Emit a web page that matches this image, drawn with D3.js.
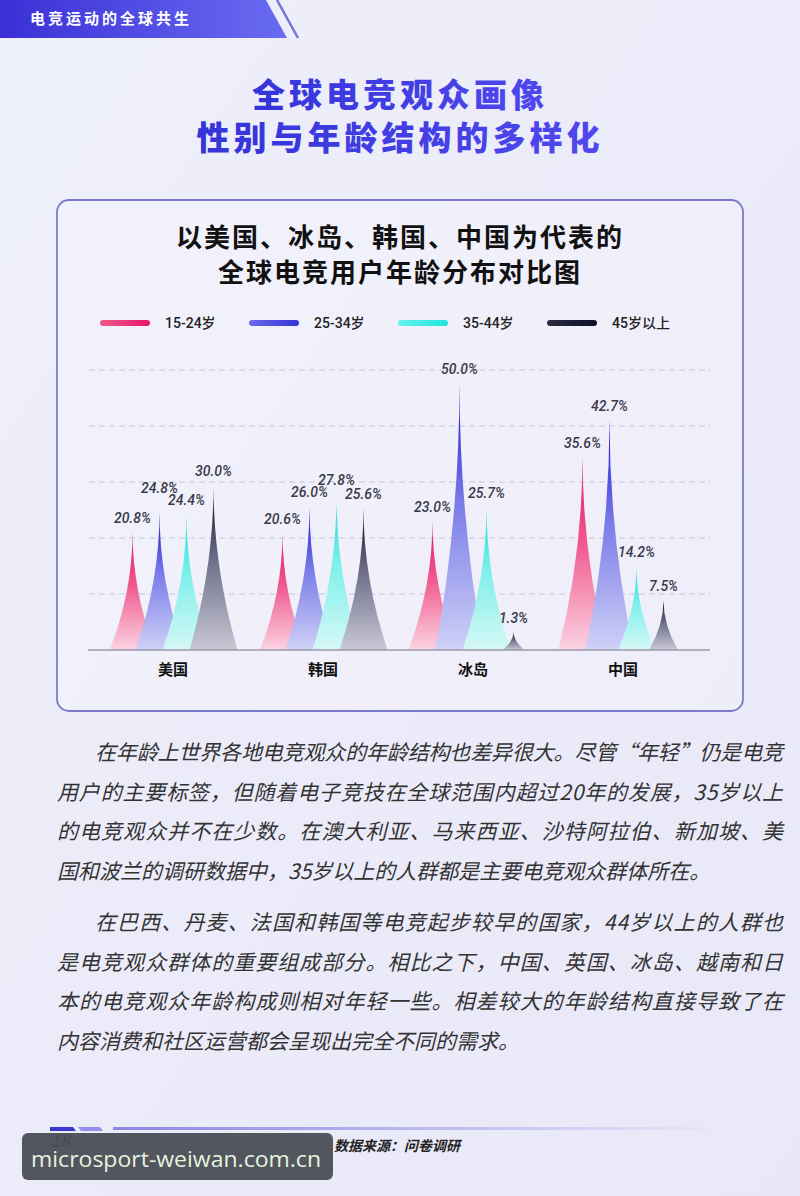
<!DOCTYPE html>
<html lang="zh">
<head>
<meta charset="utf-8">
<title>全球电竞用户年龄分布对比图</title>
<script src="https://cdn.jsdelivr.net/npm/d3@7"></script>
<style>
  body { margin: 0; background: #eceefa; }
  svg { display: block; font-family: "Noto Sans CJK SC", "Noto Sans", sans-serif; }
  .grid line { stroke: #c6c6d6; stroke-dasharray: 6 4; }
  .val { font-family: "Roboto", "Noto Sans CJK SC", sans-serif; font-style: italic; font-weight: 500; font-size: 14px; fill: #3a3a4a; }
  .cat { font-size: 15px; font-weight: 700; fill: #111; }
  .leg { font-family: "Roboto", "Noto Sans CJK SC", sans-serif; font-size: 14px; font-weight: 500; fill: #222; }
  .para { font-size: 21px; font-style: italic; fill: #333; }
</style>
</head>
<body>
<div id="page"></div>
<script>
// ---- data ----
var countries = ["美国", "韩国", "冰岛", "中国"];
var ageGroups = ["15-24岁", "25-34岁", "35-44岁", "45岁以上"];
var age1524 = [20.8, 20.6, 23.0, 35.6];
var age2534 = [24.8, 26.0, 50.0, 42.7];
var age3544 = [24.4, 27.8, 25.7, 14.2];
var age45up = [30.0, 25.6, 1.3, 7.5];

var paragraph1 = [
  "在年龄上世界各地电竞观众的年龄结构也差异很大。尽管“年轻”仍是电竞",
  "用户的主要标签，但随着电子竞技在全球范围内超过20年的发展，35岁以上",
  "的电竞观众并不在少数。在澳大利亚、马来西亚、沙特阿拉伯、新加坡、美",
  "国和波兰的调研数据中，35岁以上的人群都是主要电竞观众群体所在。"
];
var paragraph2 = [
  "在巴西、丹麦、法国和韩国等电竞起步较早的国家，44岁以上的人群也",
  "是电竞观众群体的重要组成部分。相比之下，中国、英国、冰岛、越南和日",
  "本的电竞观众年龄构成则相对年轻一些。相差较大的年龄结构直接导致了在",
  "内容消费和社区运营都会呈现出完全不同的需求。"
];

var seriesValues = [age1524, age2534, age3544, age45up];

// colours: [top, middle, bottom] for the spikes, [left, right] for legend
var spikeColors = [
  ["#e5125c", "#f05a8e", "#fbd3e2"],
  ["#1c12d6", "#7b7de8", "#cfd1f7"],
  ["#15e0da", "#7ff0ea", "#d6f8f6"],
  ["#121230", "#6e6e88", "#c8c8d6"]
];
var legendColors = [
  ["#f25a88", "#e8176a"],
  ["#6c6ae8", "#3434d6"],
  ["#66f2ec", "#1ee6de"],
  ["#2c2c42", "#0e0e26"]
];

var W = 800, H = 1196;

var svg = d3.select("#page").append("svg")
  .attr("width", W)
  .attr("height", H);

var defs = svg.append("defs");

// background
var bg = defs.append("linearGradient").attr("id", "bg")
  .attr("x1", 0).attr("y1", 0).attr("x2", 1).attr("y2", 1);
bg.append("stop").attr("offset", "0%").attr("stop-color", "#eef0fb");
bg.append("stop").attr("offset", "50%").attr("stop-color", "#ecebf9");
bg.append("stop").attr("offset", "100%").attr("stop-color", "#e8e8f8");
svg.append("rect").attr("width", W).attr("height", H).attr("fill", "url(#bg)");

// ---- top banner ----
var ban = defs.append("linearGradient").attr("id", "banner");
ban.append("stop").attr("offset", "0%").attr("stop-color", "#3a2fd6");
ban.append("stop").attr("offset", "100%").attr("stop-color", "#6a6cf2");
svg.append("path")
  .attr("d", "M0,0 L266,0 L287,38 L0,38 Z")
  .attr("fill", "url(#banner)");
svg.append("line")
  .attr("x1", 277).attr("y1", 0).attr("x2", 298).attr("y2", 38)
  .attr("stroke", "#7773de").attr("stroke-width", 2.5);
svg.append("text")
  .attr("x", 30).attr("y", 24)
  .attr("fill", "#fff")
  .style("font-size", "15px").style("font-weight", 700).style("letter-spacing", "3px")
  .text("电竞运动的全球共生");

// ---- main title ----
var tg = defs.append("linearGradient").attr("id", "title");
tg.append("stop").attr("offset", "0%").attr("stop-color", "#3434d8");
tg.append("stop").attr("offset", "100%").attr("stop-color", "#5048ee");
svg.selectAll(".mtitle")
  .data(["全球电竞观众画像", "性别与年龄结构的多样化"])
  .enter().append("text")
    .attr("class", "mtitle")
    .attr("x", 400)
    .attr("y", function(d, i) { return 107 + i * 43; })
    .attr("text-anchor", "middle")
    .attr("fill", "url(#title)")
    .style("font-size", "33px").style("font-weight", 900).style("letter-spacing", "4px")
    .text(function(d) { return d; });

// ---- chart panel ----
svg.append("rect")
  .attr("x", 57).attr("y", 200).attr("width", 686).attr("height", 511)
  .attr("rx", 12)
  .attr("fill", "rgba(255,255,255,0.22)")
  .attr("stroke", "#7c79cc").attr("stroke-width", 1.8);

svg.selectAll(".ctitle")
  .data(["以美国、冰岛、韩国、中国为代表的", "全球电竞用户年龄分布对比图"])
  .enter().append("text")
    .attr("class", "ctitle")
    .attr("x", 400)
    .attr("y", function(d, i) { return 247 + i * 35; })
    .attr("text-anchor", "middle")
    .attr("fill", "#111")
    .style("font-size", "26px").style("font-weight", 700).style("letter-spacing", "2px")
    .text(function(d) { return d; });

// legend
legendColors.forEach(function(c, i) {
  var g = defs.append("linearGradient").attr("id", "leg" + i);
  g.append("stop").attr("offset", "0%").attr("stop-color", c[0]);
  g.append("stop").attr("offset", "100%").attr("stop-color", c[1]);
});
var legX = d3.scaleBand().domain(ageGroups).range([100, 696]);
var leg = svg.selectAll(".legItem")
  .data(ageGroups)
  .enter().append("g")
    .attr("class", "legItem")
    .attr("transform", function(d) { return "translate(" + legX(d) + ",323)"; });
leg.append("rect")
  .attr("x", 0).attr("y", -3).attr("width", 50).attr("height", 6).attr("rx", 3)
  .attr("fill", function(d, i) { return "url(#leg" + i + ")"; });
leg.append("text")
  .attr("class", "leg")
  .attr("x", 65).attr("y", 5)
  .text(function(d) { return d; });

// scales
var x0 = d3.scaleBand().domain(countries).range([98, 698]);
var x1 = d3.scaleBand().domain(ageGroups).range([-54, 54]);
var y = d3.scaleLinear().domain([-2.2, 50]).range([650, 383]);
var halfW = d3.scaleLinear().domain([0, 23]).range([10, 24]).clamp(true);
var grid = d3.scaleLinear().domain([0, 5]).range([650, 370]);

// gridlines
svg.append("g").attr("class", "grid")
  .selectAll("line")
  .data([1, 2, 3, 4, 5])
  .enter().append("line")
    .attr("x1", 89).attr("x2", 710)
    .attr("y1", function(d) { return grid(d); })
    .attr("y2", function(d) { return grid(d); });

// spike gradients
spikeColors.forEach(function(c, i) {
  var g = defs.append("linearGradient").attr("id", "spike" + i)
    .attr("x1", 0).attr("y1", 0).attr("x2", 0).attr("y2", 1);
  g.append("stop").attr("offset", "0%").attr("stop-color", c[0]);
  g.append("stop").attr("offset", "45%").attr("stop-color", c[1]);
  g.append("stop").attr("offset", "100%").attr("stop-color", c[2]);
});

// concave spike: half width shrinks with the square of the height fraction
function spike(cx, v) {
  var base = y(-2.2), top = y(v), w = halfW(v), mid = (base + top) / 2;
  return "M" + (cx - w) + "," + base +
    " Q" + cx + "," + mid + " " + cx + "," + top +
    " Q" + cx + "," + mid + " " + (cx + w) + "," + base + " Z";
}

var groups = svg.selectAll(".country")
  .data(countries)
  .enter().append("g")
    .attr("class", "country")
    .attr("transform", function(d) { return "translate(" + (x0(d) + x0.bandwidth() / 2) + ",0)"; });

ageGroups.forEach(function(a, si) {
  groups.append("path")
    .attr("d", function(d, ci) { return spike(x1(a) + x1.bandwidth() / 2, seriesValues[si][ci]); })
    .attr("fill", "url(#spike" + si + ")");
});

// value labels; lift a label when it would collide with its neighbour
countries.forEach(function(c, ci) {
  var ly = seriesValues.map(function(s) { return y(s[ci]) - 9; });
  for (var k = 0; k < ly.length - 1; k++) {
    if (Math.abs(ly[k] - ly[k + 1]) < 12) {
      if (seriesValues[k][ci] >= seriesValues[k + 1][ci]) ly[k] = ly[k + 1] - 12;
      else ly[k + 1] = ly[k] - 12;
    }
  }
  var g = d3.select(groups.nodes()[ci]);
  ageGroups.forEach(function(a, si) {
    g.append("text")
      .attr("class", "val")
      .attr("x", x1(a) + x1.bandwidth() / 2)
      .attr("y", ly[si])
      .attr("text-anchor", "middle")
      .text(seriesValues[si][ci].toFixed(1) + "%");
  });
});

// baseline + category labels
svg.append("line")
  .attr("x1", 88).attr("x2", 710).attr("y1", 650).attr("y2", 650)
  .attr("stroke", "#9a9aae").attr("stroke-width", 1.5);
groups.append("text")
  .attr("class", "cat")
  .attr("y", 675)
  .attr("text-anchor", "middle")
  .text(function(d) { return d; });

// ---- body text ----
function drawPara(lines, y0) {
  svg.selectAll(null)
    .data(lines)
    .enter().append("text")
      .attr("class", "para")
      .attr("x", function(d, i) { return i === 0 ? 95 : 57; })
      .attr("y", function(d, i) { return y0 + i * 39.5; })
      .each(function(d, i) {
        if (i < lines.length - 1) {
          d3.select(this).attr("textLength", i === 0 ? 688 : 726).attr("lengthAdjust", "spacing");
        }
      })
      .text(function(d) { return d; });
}
drawPara(paragraph1, 760);
drawPara(paragraph2, 930);

// ---- footer ----
var fl = defs.append("linearGradient").attr("id", "footLine");
fl.append("stop").attr("offset", "0%").attr("stop-color", "#8a86e6");
fl.append("stop").attr("offset", "100%").attr("stop-color", "#8a86e6").attr("stop-opacity", 0);
svg.append("path").attr("d", "M50,1127 L73,1127 L76,1131 L50,1131 Z").attr("fill", "#3a36d0");
svg.append("path").attr("d", "M78,1127 L100,1127 L103,1131 L81,1131 Z").attr("fill", "#9490ea");
svg.append("rect").attr("x", 113).attr("y", 1127).attr("width", 610).attr("height", 3).attr("fill", "url(#footLine)");
svg.append("text")
  .attr("x", 50).attr("y", 1147)
  .attr("fill", "#2c2a80")
  .style("font-size", "17px").style("font-weight", 700).style("font-style", "italic")
  .text("18");
svg.append("text")
  .attr("x", 334).attr("y", 1151)
  .attr("fill", "#222")
  .style("font-size", "14px").style("font-weight", 700).style("font-style", "italic")
  .text("数据来源：问卷调研");

// watermark (covers the page number, as in the source)
svg.append("rect")
  .attr("x", 22).attr("y", 1133).attr("width", 311).attr("height", 47).attr("rx", 6)
  .attr("fill", "#4c4f57").attr("fill-opacity", 0.96);
svg.append("text")
  .attr("x", 31).attr("y", 1167)
  .attr("fill", "#e4f4df")
  .attr("textLength", 290).attr("lengthAdjust", "spacingAndGlyphs")
  .style("font-family", "'Open Sans', 'Noto Sans', sans-serif")
  .style("font-size", "22px")
  .text("microsport-weiwan.com.cn");
</script>
</body>
</html>
